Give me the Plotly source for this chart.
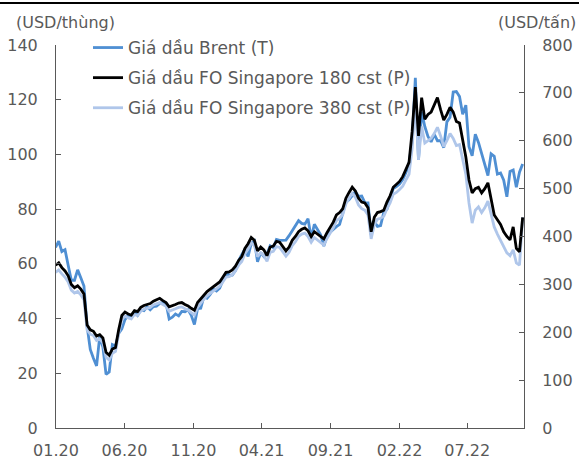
import pandas as pd
import plotly.graph_objects as go

# Weekly dates (Tuesdays) from 31.12.2019 to 01.11.2022
dates = pd.date_range("2019-12-31", "2022-11-01", freq="7D")

# Brent (USD/thùng) - left axis
brent_2020 = [66.0, 68.3, 64.5, 65.2, 59.5, 54.0, 54.0, 57.8, 54.9, 51.9, 37.2, 28.7, 25.5,
              22.7, 33.5, 29.6, 19.6, 20.5, 30.5, 30.0, 34.6, 36.2, 39.6, 41.2, 41.0, 42.6,
              41.2, 43.1, 42.9, 44.3, 43.2, 44.4, 44.5, 45.5, 45.9, 45.6, 39.8, 40.5, 41.7,
              41.0, 42.6, 42.5, 43.2, 41.2, 37.8, 43.6, 43.8, 48.0, 47.4, 48.8, 50.8, 50.1, 51.1]
brent_2021 = [53.6, 56.6, 55.9, 55.9, 57.5, 61.1, 63.4, 65.4, 62.7, 67.5, 68.4, 60.8, 64.1,
              62.7, 63.7, 66.6, 65.9, 68.9, 68.6, 68.7, 68.7, 70.3, 72.2, 74.0, 75.8, 74.8,
              74.5, 76.5, 69.4, 74.5, 72.4, 70.6, 66.5, 70.1, 71.6, 72.7, 73.6, 74.4, 78.1,
              82.6, 83.4, 85.1, 86.4, 84.7, 84.8, 82.4, 82.3, 70.6, 75.4, 73.7, 74.0, 78.9]
brent_2022 = [80.0, 83.7, 87.5, 88.2, 89.2, 90.8, 93.3, 96.8, 105.0, 128.0, 98.0, 115.6,
              110.2, 106.6, 104.6, 107.3, 105.0, 105.0, 102.5, 111.9, 113.6, 122.8, 123.0,
              121.2, 114.7, 118.0, 102.8, 99.5, 107.4, 104.4, 100.5, 96.3, 92.3, 100.2, 99.3,
              92.8, 93.2, 90.6, 84.5, 93.8, 94.3, 88.0, 93.5, 96.5]

# FO Singapore 180 cst (USD/tấn) - right axis
fo180_2020 = [340, 345, 335, 328, 318, 300, 293, 297, 290, 280, 215, 205, 202,
              192, 195, 188, 158, 152, 165, 168, 205, 235, 242, 238, 236, 245,
              243, 252, 256, 258, 260, 265, 268, 271, 266, 262, 253, 255, 258,
              261, 262, 258, 255, 250, 246, 262, 270, 278, 285, 290, 295, 300, 305]
fo180_2021 = [315, 325, 326, 330, 338, 350, 358, 375, 385, 398, 392, 370, 378,
              372, 360, 378, 380, 390, 388, 380, 370, 378, 392, 400, 410, 415,
              418, 412, 400, 410, 405, 400, 395, 408, 418, 430, 445, 450, 458,
              480, 492, 503, 495, 480, 472, 470, 460, 410, 440, 450, 452, 455]
fo180_2022 = [472, 485, 503, 508, 515, 525, 539, 555, 620, 712, 610, 690,
              645, 655, 660, 675, 690, 665, 643, 655, 670, 660, 640,
              637, 601, 566, 518, 491, 500, 503, 491, 500, 512, 480, 445,
              435, 425, 410, 400, 393, 420, 375, 368, 440]

# FO Singapore 380 cst (USD/tấn) - right axis
fo380_2020 = [325, 330, 322, 315, 305, 288, 282, 285, 278, 268, 205, 196, 193,
              183, 186, 178, 148, 142, 156, 160, 197, 227, 234, 230, 228, 237,
              235, 244, 248, 250, 252, 257, 260, 262, 258, 254, 244, 246, 249,
              252, 253, 249, 246, 241, 236, 252, 261, 269, 276, 281, 286, 291, 296]
fo380_2021 = [305, 315, 316, 320, 328, 340, 348, 364, 374, 387, 381, 358, 366,
              360, 348, 367, 369, 379, 377, 369, 359, 367, 381, 389, 400, 405,
              407, 400, 388, 398, 393, 388, 382, 396, 406, 418, 433, 438, 446,
              468, 480, 490, 482, 466, 458, 455, 445, 395, 425, 436, 438, 442]
fo380_2022 = [458, 470, 488, 492, 498, 505, 518, 530, 585, 690, 560, 630,
              595, 600, 605, 615, 628, 610, 588, 600, 615, 605, 590,
              592, 560, 530, 470, 428, 455, 462, 450, 460, 474, 445, 420,
              405, 393, 380, 366, 360, 372, 345, 340, 440]

brent = brent_2020 + brent_2021 + brent_2022
fo180 = fo180_2020 + fo180_2021 + fo180_2022
fo380 = fo380_2020 + fo380_2021 + fo380_2022

names = ["Giá dầu Brent (T)", "Giá dầu FO Singapore 180 cst (P)", "Giá dầu FO Singapore 380 cst (P)"]
colors = ["#4F8FD3", "#000000", "#AFC6EA"]

FONT = "DejaVu Sans"
GREY = "#595959"
W, H = 579, 459
ML, MR, MT, MB = 56, 55, 45, 31
PW, PH = W - ML - MR, H - MT - MB

fig = go.Figure()
fig.add_trace(go.Scatter(x=dates, y=fo380, name=names[2], yaxis="y2", mode="lines",
                         line=dict(color=colors[2], width=2.8), legendrank=3, legendgroup="c"))
fig.add_trace(go.Scatter(x=dates, y=brent, name=names[0], yaxis="y", mode="lines",
                         line=dict(color=colors[0], width=2.8), legendrank=1, legendgroup="a"))
fig.add_trace(go.Scatter(x=dates, y=fo180, name=names[1], yaxis="y2", mode="lines",
                         line=dict(color=colors[1], width=2.8), legendrank=2, legendgroup="b"))

axis_common = dict(showgrid=False, zeroline=False, showline=True, linecolor=GREY, linewidth=1,
                   ticks="inside", ticklen=5, tickcolor=GREY, automargin=False,
                   tickfont=dict(family=FONT, size=16, color=GREY))

fig.update_layout(
    width=W, height=H,
    margin=dict(l=ML, r=MR, t=MT, b=MB, autoexpand=False),
    paper_bgcolor="white", plot_bgcolor="white",
    font=dict(family=FONT, size=16, color=GREY),
    xaxis=dict(type="date", range=["2020-01-01", "2022-11-04"], tick0="2020-01-01", dtick="M5",
               tickformat="%m.%y", ticklabelstandoff=8, **axis_common),
    yaxis=dict(range=[0, 140], dtick=20, ticklabelstandoff=14, **axis_common),
    yaxis2=dict(range=[0, 800], dtick=100, overlaying="y", side="right", ticklabelstandoff=14,
                **axis_common),
    legend=dict(x=(88 - ML) / PW, y=1 + 15 / PH, xanchor="left", yanchor="top",
                bgcolor="rgba(0,0,0,0)",
                font=dict(family=FONT, size=17, color=GREY), traceorder="grouped",
                tracegroupgap=5),
    showlegend=True,
    annotations=[
        dict(text="(USD/thùng)", xref="paper", yref="paper", x=(14 - ML) / PW, y=1 + 23 / PH,
             xanchor="left", yanchor="middle", showarrow=False,
             font=dict(family=FONT, size=16, color=GREY)),
        dict(text="(USD/tấn)", xref="paper", yref="paper", x=(578 - ML) / PW, y=1 + 23 / PH,
             xanchor="right", yanchor="middle", showarrow=False,
             font=dict(family=FONT, size=16, color=GREY)),
    ],
    shapes=[dict(type="line", xref="paper", yref="paper", layer="above",
                 x0=-ML / PW, x1=(W - ML) / PW,
                 y0=1 + (MT - 3) / PH, y1=1 + (MT - 3) / PH,
                 line=dict(color="#000000", width=2))],
)

fig.write_html("out.html", config={"displayModeBar": False},
               post_script="document.body.style.margin='0px';"
               "document.body.style.overflow='hidden';")
